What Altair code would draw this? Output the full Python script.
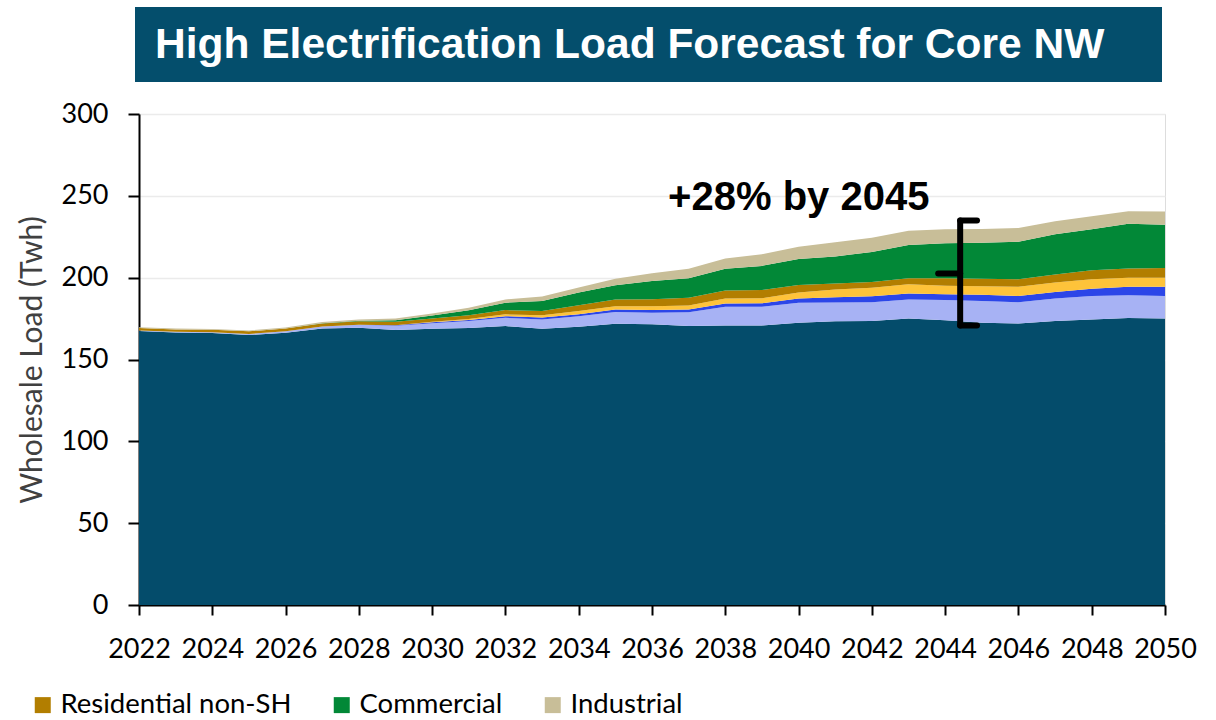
import altair as alt
import pandas as pd

# Years of the forecast
years = list(range(2022, 2051))

# Load by end use, TWh (stacked bottom to top)
baseline = [167.4, 166.5, 166.2, 165.0, 166.4, 169.0, 169.4, 168.0, 168.8, 169.2,
            170.4, 168.8, 170.0, 171.9, 171.5, 170.4, 170.8, 170.8, 172.5, 173.3,
            173.5, 175.0, 174.0, 172.5, 172.0, 173.5, 174.5, 175.3, 175.0]
residential_sh = [0.3, 0.4, 0.5, 0.6, 0.8, 1.2, 1.8, 2.6, 3.4, 4.3,
                  5.1, 5.7, 6.5, 7.1, 7.1, 8.4, 11.5, 11.5, 12.2, 11.6,
                  11.5, 11.7, 12.3, 13.2, 13.0, 13.7, 14.3, 13.9, 13.8]
light_ev = [0.0, 0.0, 0.0, 0.0, 0.0, 0.0, 0.1, 0.3, 0.5, 0.7,
            1.0, 1.1, 1.2, 1.5, 1.6, 1.7, 1.9, 2.1, 2.6, 3.2,
            3.6, 3.7, 3.6, 3.8, 3.8, 4.0, 4.5, 5.2, 5.6]
heavy_ev = [0.0, 0.0, 0.0, 0.0, 0.0, 0.0, 0.0, 0.1, 0.3, 0.6,
            1.1, 1.5, 2.0, 2.1, 2.4, 2.5, 3.0, 3.0, 3.7, 4.6,
            5.3, 5.6, 5.2, 5.2, 5.7, 5.8, 5.7, 5.5, 5.5]
residential_non_sh = [1.5, 1.5, 1.5, 1.6, 1.7, 1.8, 2.0, 2.0, 2.1, 2.3,
                      2.6, 2.6, 3.4, 4.0, 4.2, 4.8, 4.9, 5.1, 4.5, 3.8,
                      3.5, 3.6, 4.6, 4.6, 4.5, 5.0, 5.5, 5.7, 6.0]
commercial = [0.0, 0.0, 0.0, 0.0, 0.0, 0.2, 0.4, 1.0, 1.8, 3.0,
              4.5, 6.1, 7.8, 8.8, 11.2, 11.8, 13.4, 14.7, 15.9, 16.5,
              18.3, 20.4, 21.4, 22.0, 22.9, 24.5, 25.1, 27.3, 26.5]
industrial = [0.5, 0.5, 0.5, 0.5, 0.6, 0.7, 0.8, 1.0, 1.2, 1.5,
              2.0, 2.7, 3.1, 3.9, 4.7, 5.9, 6.2, 7.1, 7.5, 8.6,
              8.7, 8.7, 8.5, 8.5, 8.5, 8.0, 8.0, 7.7, 8.0]

series_names = ["Baseline", "Residential SH", "Light-duty EV", "Medium/heavy EV",
                "Residential non-SH", "Commercial", "Industrial"]
series_values = [baseline, residential_sh, light_ev, heavy_ev,
                 residential_non_sh, commercial, industrial]
series_colors = ["#044C6B", "#A7B2F4", "#2C46E8", "#FEC33A",
                 "#B27E00", "#028837", "#C8BE98"]
legend_entries = ["Residential non-SH", "Commercial", "Industrial"]

title_text = "High Electrification Load Forecast for Core NW"
note_text = "+28% by 2045"

rows = []
for layer, (name, vals) in enumerate(zip(series_names, series_values)):
    for yr, v in zip(years, vals):
        rows.append({"year": yr, "load": v, "series": name, "layer": layer})
df = pd.DataFrame(rows)

W, H = 1026, 491
LABEL_FONT = "Lato"

x_enc = alt.X("year:Q",
              scale=alt.Scale(domain=[2022, 2050], nice=False, zero=False),
              axis=alt.Axis(values=list(range(2022, 2051, 2)), format="d",
                            title=None, grid=False, labelFontSize=27,
                            labelFont=LABEL_FONT, labelColor="#000000",
                            labelPadding=21, tickSize=10, tickColor="#000000",
                            tickWidth=2, domainColor="#000000", domainWidth=2,
                            labelFlush=False, labelOverlap=False))
y_enc = alt.Y("load:Q", stack="zero",
              scale=alt.Scale(domain=[0, 300], nice=False),
              axis=alt.Axis(values=list(range(0, 301, 50)),
                            title="Wholesale Load (Twh)", titleFontSize=30,
                            titleFont=LABEL_FONT, titleFontWeight="normal",
                            titleColor="#404040", titlePadding=14,
                            labelFontSize=27, labelFont=LABEL_FONT,
                            labelColor="#000000", labelPadding=20,
                            tickSize=11, tickColor="#000000", tickWidth=2,
                            domainColor="#000000", domainWidth=2,
                            gridColor="#EBEBEB", gridWidth=1.5))

areas = alt.Chart(df).mark_area(interpolate="linear").encode(
    x=x_enc,
    y=y_enc,
    color=alt.Color("series:N",
                    scale=alt.Scale(domain=series_names, range=series_colors),
                    sort=series_names,
                    legend=alt.Legend(values=legend_entries, title=None,
                                      orient="none", direction="horizontal",
                                      legendX=-110, legendY=577,
                                      symbolType="square", symbolSize=256,
                                      symbolStrokeWidth=0, symbolOpacity=1,
                                      labelFontSize=27.5, labelFont=LABEL_FONT,
                                      labelColor="#000000", labelOffset=4,
                                      labelLimit=0, columnPadding=36)),
    order=alt.Order("layer:Q", sort="ascending"),
)

# Title banner above the plot
banner = alt.Chart(pd.DataFrame({"t": [title_text]})).mark_rect(
    color="#044E6C").encode(
    x=alt.value(-4), x2=alt.value(1023), y=alt.value(-107), y2=alt.value(-32))
banner_text = alt.Chart(pd.DataFrame({"t": [title_text]})).mark_text(
    align="left", baseline="middle", font="Liberation Sans", fontWeight="bold",
    fontSize=42.5, color="#FFFFFF").encode(
    x=alt.value(16), y=alt.value(-69), text="t:N")

# Growth annotation and bracket
note = alt.Chart(pd.DataFrame({"year": [2036.44], "load": [248.7],
                               "t": [note_text]})).mark_text(
    align="left", baseline="middle", font="Liberation Sans", fontWeight="bold",
    fontSize=40, color="#000000").encode(
    x=alt.X("year:Q"), y=alt.Y("load:Q"), text="t:N")

bracket_df = pd.DataFrame({
    "x1": [2044.41, 2044.41, 2044.41, 2043.81],
    "x2": [2044.41, 2044.87, 2044.87, 2044.41],
    "y1": [170.8, 235.0, 170.8, 202.6],
    "y2": [235.0, 235.0, 170.8, 202.6],
})
bracket = alt.Chart(bracket_df).mark_rule(
    color="#000000", strokeWidth=6, strokeCap="round").encode(
    x="x1:Q", x2="x2:Q", y="y1:Q", y2="y2:Q")

chart = alt.layer(areas, bracket, note, banner, banner_text).properties(
    width=W, height=H,
    autosize=alt.AutoSizeParams(type="none"),
    padding={"left": 139, "top": 114, "right": 51, "bottom": 115},
).configure_view(stroke=None).configure(background="#FFFFFF")

chart.save("out.html", embed_options={"renderer": "svg", "actions": False})
